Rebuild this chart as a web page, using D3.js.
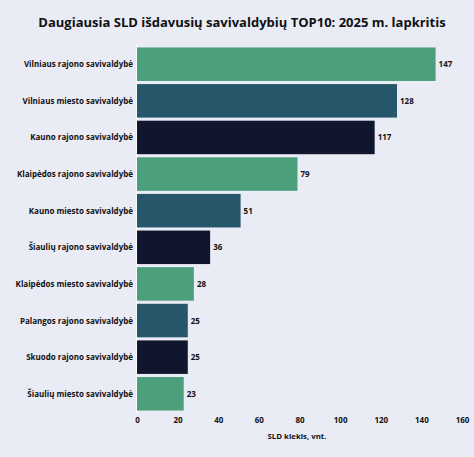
<!DOCTYPE html><html><head><meta charset="utf-8"><script src="https://cdn.jsdelivr.net/npm/d3@7"></script>
<style>body{margin:0;background:#e9ebf5}svg{font-family:"Open Sans",sans-serif;font-weight:700}</style></head><body>
<script>
const categories=["Vilniaus rajono savivaldybė","Vilniaus miesto savivaldybė","Kauno rajono savivaldybė","Klaipėdos rajono savivaldybė","Kauno miesto savivaldybė","Šiaulių rajono savivaldybė","Klaipėdos miesto savivaldybė","Palangos rajono savivaldybė","Skuodo rajono savivaldybė","Šiaulių miesto savivaldybė"];
const values=[147,128,117,79,51,36,28,25,25,23];
const colors=["#4b9f7b","#265669","#10162e"];
const ticks=[0,20,40,60,80,100,120,140,160];
const W=474,H=457;
const svg=d3.select("body").append("svg").attr("width",W).attr("height",H);
svg.append("rect").attr("width",W).attr("height",H).attr("fill","#e9ebf5");
svg.append("text").attr("x",242).attr("y",27).attr("text-anchor","middle").attr("font-size",13).attr("fill","#111")
 .text("Daugiausia SLD  išdavusių savivaldybių TOP10: 2025 m. lapkritis");
const x=d3.scaleLinear().domain([0,160]).range([137,462]);
const y=d3.scaleBand().domain(categories).range([46,412]).paddingInner(0.085).paddingOuter(0.04);
svg.append("line").attr("x1",137).attr("x2",137).attr("y1",44).attr("y2",414).attr("stroke","#fff").attr("stroke-width",1.5);
svg.selectAll(".b").data(values).join("rect").attr("x",x(0)).attr("y",(d,i)=>y(categories[i]))
 .attr("width",d=>x(d)-x(0)).attr("height",y.bandwidth()).attr("fill",(d,i)=>colors[i%3]);
svg.selectAll(".v").data(values).join("text").attr("x",d=>x(d)+3).attr("y",(d,i)=>y(categories[i])+y.bandwidth()/2+3)
 .attr("font-size",8).attr("fill","#111").text(d=>d);
svg.selectAll(".c").data(categories).join("text").attr("x",133).attr("y",d=>y(d)+y.bandwidth()/2+3)
 .attr("text-anchor","end").attr("font-size",8).attr("fill","#111").text(d=>d);
const ax=svg.append("g").attr("transform","translate(0,413)").call(d3.axisBottom(x).tickValues(ticks).tickSize(0).tickPadding(4));
ax.select(".domain").remove();
ax.selectAll("text").attr("font-size",8).attr("font-weight",700).attr("fill","#111").attr("font-family","Open Sans");
svg.append("text").attr("x",297).attr("y",439).attr("text-anchor","middle").attr("font-size",7.8).attr("fill","#111").text("SLD kiekis, vnt.");
</script></body></html>
